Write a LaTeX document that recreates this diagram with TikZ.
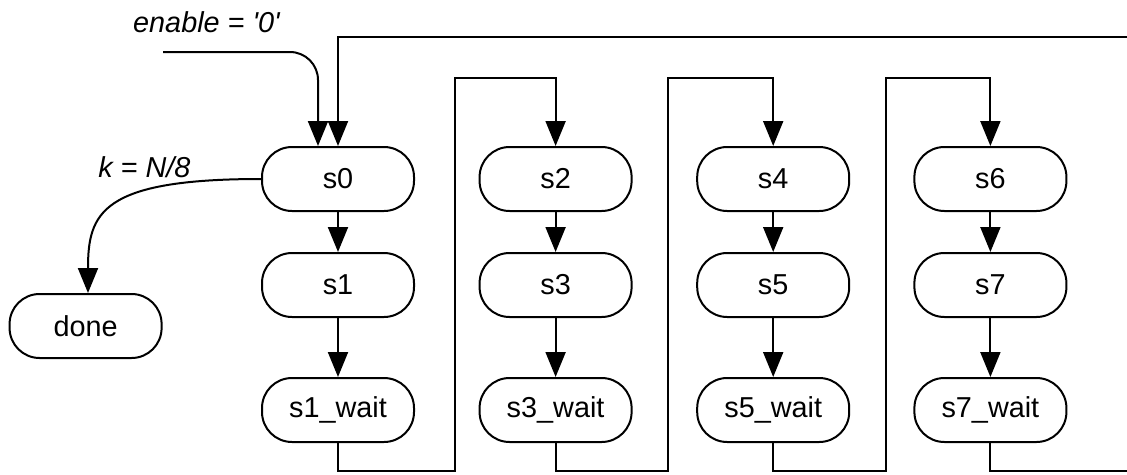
\documentclass[tikz,border=0pt]{standalone}
\usepackage{fontspec}
\setmainfont{Liberation Sans}
\usetikzlibrary{arrows.meta}
\tikzset{
  stnode/.style={draw,line width=0.05cm,rounded corners=0.75cm,minimum width=3.8cm,minimum height=1.6cm,inner sep=0pt,font=\fontsize{20.5}{24}\selectfont},
  flow/.style={line width=0.05cm,-{Triangle[length=0.625cm,width=0.5cm]}},
  cond/.style={font=\fontsize{20.5}{24}\selectfont\itshape},
}
\begin{document}
\begin{tikzpicture}
\useasboundingbox (0,0) rectangle (28.175,11.85);
%
\node[stnode] (s0) at (8.45,7.375) {s0};
\node[stnode] (s1) at (8.45,4.725) {s1};
\node[stnode] (s1w) at (8.45,1.6) {s1\_wait};
\node[stnode] (s2) at (13.89,7.375) {s2};
\node[stnode] (s3) at (13.89,4.725) {s3};
\node[stnode] (s3w) at (13.89,1.6) {s3\_wait};
\node[stnode] (s4) at (19.33,7.375) {s4};
\node[stnode] (s5) at (19.33,4.725) {s5};
\node[stnode] (s5w) at (19.33,1.6) {s5\_wait};
\node[stnode] (s6) at (24.76,7.375) {s6};
\node[stnode] (s7) at (24.76,4.725) {s7};
\node[stnode] (s7w) at (24.76,1.6) {s7\_wait};
\node[stnode] (done) at (2.14,3.7) {done};
%
\draw[flow] (s0)--(s1); \draw[flow] (s1)--(s1w);
\draw[flow] (s2)--(s3); \draw[flow] (s3)--(s3w);
\draw[flow] (s4)--(s5); \draw[flow] (s5)--(s5w);
\draw[flow] (s6)--(s7); \draw[flow] (s7)--(s7w);
%
\coordinate (b1) at (11.375,0.075); \coordinate (t1) at (11.375,9.9);
\coordinate (b2) at (16.7,0.075); \coordinate (t2) at (16.7,9.9);
\coordinate (b3) at (22.15,0.075); \coordinate (t3) at (22.15,9.9);
\coordinate (b4) at (28.22,0.075); \coordinate (t4) at (28.22,10.925);
\draw[flow] (s1w.south) |- (b1) -- (t1) -| (s2.north); %wait -> next column
\draw[flow] (s3w.south) |- (b2) -- (t2) -| (s4.north);
\draw[flow] (s5w.south) |- (b3) -- (t3) -| (s6.north);
\draw[flow] (s7w.south) |- (b4) -- (t4) -| (s0.north); %outer loop back to s0
%
\coordinate (en) at (4.075,10.55);
\draw[flow,rounded corners=0.7cm] (en) -| ([xshift=-0.5cm]s0.north);
\node[cond] (enlab) at (5.16,11.3) {enable = \textquotesingle 0\textquotesingle};
%
\draw[flow] (s0.west) .. controls +(-4,0) and +(0,2) .. ([xshift=0.06cm]done.north);
\node[cond] (klab) at (3.61,7.68) {k = N/8};
\end{tikzpicture}
\end{document}
